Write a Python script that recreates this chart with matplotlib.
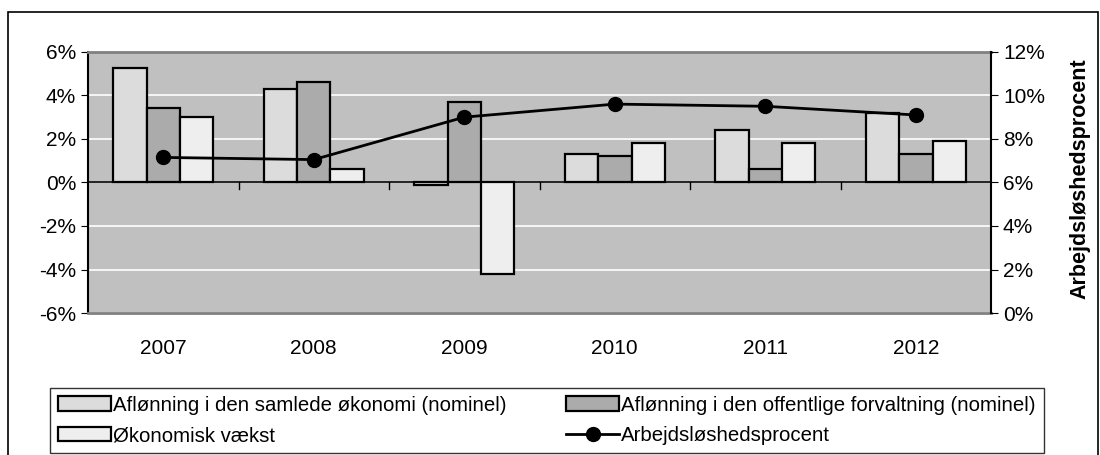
import matplotlib.pyplot as plt
import matplotlib.patches as mpatches
from matplotlib.ticker import FuncFormatter
import numpy as np

plt.rcParams['font.family'] = ['Liberation Sans', 'DejaVu Sans']

aar = ['2007', '2008', '2009', '2010', '2011', '2012']
samlede = [5.25, 4.3, -0.1, 1.3, 2.4, 3.2]
offentlige = [3.4, 4.6, 3.7, 1.2, 0.6, 1.3]
vaekst = [3.0, 0.6, -4.2, 1.8, 1.8, 1.9]
ledighed = [7.15, 7.05, 9.0, 9.6, 9.5, 9.1]

navne = ['Aflønning i den samlede økonomi (nominel)',
         'Aflønning i den offentlige forvaltning (nominel)',
         'Økonomisk vækst',
         'Arbejdsløshedsprocent']

fig = plt.figure(figsize=(11, 4.55), dpi=100)
ax = fig.add_axes([0.08, 0.312, 0.821, 0.574])
ax.set_facecolor('#C0C0C0')

x = np.arange(len(aar))
b = 0.222
s1 = ax.bar(x - b, samlede, b, color='#DCDCDC', edgecolor='black', linewidth=1.6, zorder=3)
s2 = ax.bar(x, offentlige, b, color='#ABABAB', edgecolor='black', linewidth=1.6, zorder=3)
s3 = ax.bar(x + b, vaekst, b, color='#EEEEEE', edgecolor='black', linewidth=1.6, zorder=3)

ax.set_xlim(-0.5, len(aar) - 0.5)
ax.set_ylim(-6, 6)
ax.set_yticks(range(-6, 7, 2))
ax.yaxis.set_major_formatter(FuncFormatter(lambda v, p: f'{v:.0f}%'))
ax.grid(axis='y', color='white', linewidth=1.2, zorder=0)
ax.axhline(0, color='black', linewidth=1.2, zorder=4)
ax.set_xticks(x)
ax.set_xticklabels(aar)
ax.tick_params(axis='x', length=0, pad=19, labelsize=15)
ax.tick_params(axis='y', labelsize=15, length=5, direction='out')
for k in ['top', 'bottom']:
    ax.spines[k].set_color('#808080')
    ax.spines[k].set_linewidth(2)
ax.spines['left'].set_linewidth(1.5)
ax.spines['right'].set_visible(False)
# small category ticks on the 0-line
for xt in np.arange(0.5, len(aar) - 0.5, 1):
    ax.plot([xt, xt], [0, -0.28], color='black', linewidth=1, zorder=4)

ax2 = ax.twinx()
ln, = ax2.plot(x, ledighed, color='black', linewidth=2, marker='o', markersize=10, zorder=5)
ax2.set_ylim(0, 12)
ax2.set_yticks(range(0, 13, 2))
ax2.yaxis.set_major_formatter(FuncFormatter(lambda v, p: f'{v:.0f}%'))
ax2.tick_params(axis='y', labelsize=15, length=5)
ax2.spines['right'].set_linewidth(1.5)
for k in ['top', 'bottom', 'left']:
    ax2.spines[k].set_visible(False)
ax2.set_ylabel('Arbejdsløshedsprocent', fontsize=15.5, fontweight='bold')
ax2.yaxis.set_label_coords(1.087, 0.513)

fig.legend([s1, s3, s2, ln], [navne[0], navne[2], navne[1], navne[3]],
           ncol=2, loc='lower left', bbox_to_anchor=(0.0455, 0.004),
           fontsize=14.7, frameon=True, fancybox=False,
           edgecolor='black', handlelength=2.6, handletextpad=0.1,
           labelspacing=0.55, borderpad=0.4, borderaxespad=0, columnspacing=2.9)

fig.patches.append(mpatches.Rectangle((8 / 1100, -0.1), 1090 / 1100, 1.1 - 12 / 455,
                                      transform=fig.transFigure, fill=False,
                                      edgecolor='black', linewidth=1.2))

fig.savefig('out.png', dpi=100)
